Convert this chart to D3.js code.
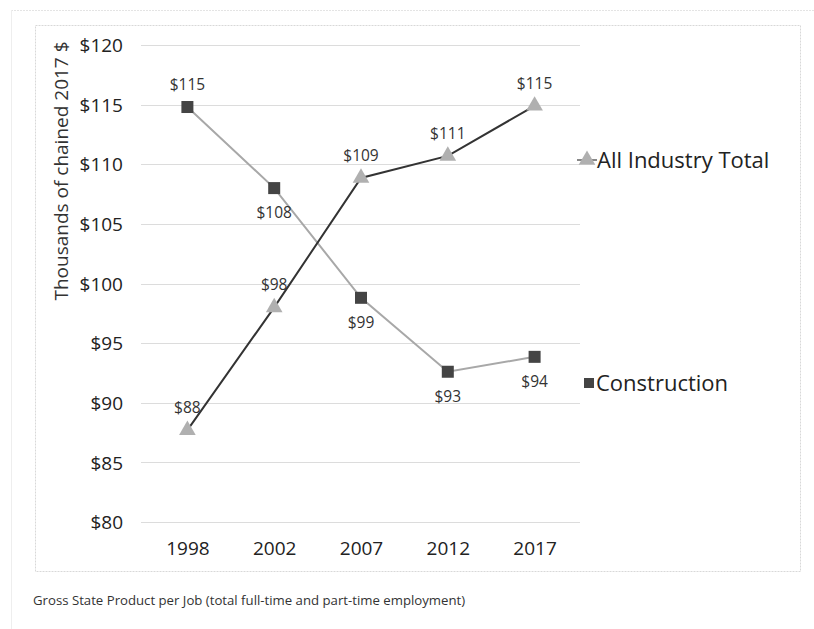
<!DOCTYPE html>
<html><head><meta charset="utf-8">
<script src="https://cdn.jsdelivr.net/npm/d3@7"></script>
<style>body{margin:0;background:#fff}svg{display:block}text{font-family:"Open Sans","Noto Sans",sans-serif}</style>
</head><body>
<svg id="c" width="814" height="629"></svg>
<script>
const years = ["1998","2002","2007","2012","2017"];
const allIndustry = [87.7, 98.0, 108.85, 110.7, 114.9];
const allIndustryLabels = ["$88","$98","$109","$111","$115"];
const construction = [114.8, 108.0, 98.8, 92.6, 93.85];
const constructionLabels = ["$115","$108","$99","$93","$94"];
const yTicks = [80,85,90,95,100,105,110,115,120];
const yTitle = "Thousands of chained 2017 $";
const caption = "Gross State Product per Job (total full-time and part-time employment)";

const svg = d3.select("#c");
// frames
svg.append("line").attr("x1",11).attr("x2",814).attr("y1",10.5).attr("y2",10.5).attr("stroke","#e4e4e4").attr("stroke-dasharray","2,1");
svg.append("line").attr("x1",11.5).attr("x2",11.5).attr("y1",10).attr("y2",629).attr("stroke","#eeeeee");
svg.append("rect").attr("x",35.5).attr("y",25.5).attr("width",765).attr("height",546)
  .attr("fill","none").attr("stroke","#d8d8d8").attr("stroke-dasharray","2,1");

const x = d3.scalePoint().domain(years).range([144,578]).padding(0.5);
const y = d3.scaleLinear().domain([80,120]).range([522,45]);

// grid
svg.append("g").selectAll("line").data(yTicks).join("line")
  .attr("x1",141).attr("x2",580).attr("y1",d=>Math.round(y(d))+0.5).attr("y2",d=>Math.round(y(d))+0.5)
  .attr("stroke","#dcdcdc").attr("stroke-width",1);

// y axis
const ya = svg.append("g").attr("transform","translate(123,0)")
  .call(d3.axisLeft(y).tickValues(yTicks).tickSize(0).tickPadding(0).tickFormat(d=>"$"+d));
ya.select(".domain").remove();
ya.selectAll("text").attr("font-size",19).attr("fill","#222").attr("dy","0.35em").style("font-family","'Open Sans'");

// x axis
const xa = svg.append("g").attr("transform","translate(0,541)")
  .call(d3.axisBottom(x).tickSize(0).tickPadding(0));
xa.select(".domain").remove();
xa.selectAll("text").attr("font-size",19).attr("fill","#222").attr("dy","0.72em").style("font-family","'Open Sans'");

// y title
svg.append("text").attr("transform","translate(68,171) rotate(-90)").attr("text-anchor","middle")
  .attr("font-size",19).attr("fill","#333").text(yTitle);

const line = d3.line().x((d,i)=>x(years[i])).y(d=>y(d));

// construction line
svg.append("path").datum(construction).attr("d",line).attr("fill","none").attr("stroke","#a8a8a8").attr("stroke-width",2);
// all industry line
svg.append("path").datum(allIndustry).attr("d",line).attr("fill","none").attr("stroke","#333").attr("stroke-width",2);

// construction markers
svg.append("g").selectAll("rect").data(construction).join("rect")
  .attr("x",(d,i)=>x(years[i])-6).attr("y",d=>y(d)-6).attr("width",12).attr("height",12).attr("fill","#444");
// all industry markers
const tri = d3.symbol().type(d3.symbolTriangle).size(120);
svg.append("g").selectAll("path").data(allIndustry).join("path")
  .attr("d",tri).attr("transform",(d,i)=>`translate(${x(years[i])},${y(d)})`).attr("fill","#b0b0b0");

// labels
const cPos = [-1,1,1,1,1];
svg.append("g").selectAll("text").data(construction).join("text")
  .attr("x",(d,i)=>x(years[i])).attr("y",(d,i)=>y(d)+(cPos[i]<0?-17:30))
  .attr("text-anchor","middle").attr("font-size",15.5).attr("fill","#333").text((d,i)=>constructionLabels[i]);
svg.append("g").selectAll("text").data(allIndustry).join("text")
  .attr("x",(d,i)=>x(years[i])).attr("y",d=>y(d)-17)
  .attr("text-anchor","middle").attr("font-size",15.5).attr("fill","#333").text((d,i)=>allIndustryLabels[i]);

// legend
const lg1 = svg.append("g").attr("transform",`translate(0,160)`);
lg1.append("line").attr("x1",577).attr("x2",597).attr("y1",0).attr("y2",0).attr("stroke","#888").attr("stroke-width",2);
lg1.append("path").attr("d",tri).attr("transform","translate(587,0)").attr("fill","#b0b0b0");
lg1.append("text").attr("x",597).attr("y",0).attr("dy","0.35em").attr("font-size",22).attr("fill","#222").text("All Industry Total");

const lg2 = svg.append("g").attr("transform",`translate(0,383)`);
lg2.append("rect").attr("x",584).attr("y",-5).attr("width",10).attr("height",10).attr("fill","#444");
lg2.append("text").attr("x",596).attr("y",0).attr("dy","0.35em").attr("font-size",22).attr("fill","#222").text("Construction");

svg.append("text").attr("x",33).attr("y",605).attr("font-size",13.2).attr("fill","#333").text(caption);
</script>
</body></html>
